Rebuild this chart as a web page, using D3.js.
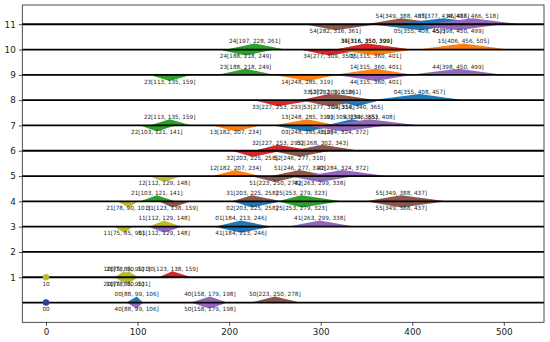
<!DOCTYPE html>
<html><head><meta charset="utf-8">
<script src="https://cdn.jsdelivr.net/npm/d3@7"></script>
<style>body{margin:0;background:#fff}svg{display:block}</style>
</head><body>
<svg id="c" width="550" height="342"></svg>
<script>
// ---- data ----
const rowLines = [0,1,2,3,4,5,6,7,8,9,10,11];
const yTickValues = [1,2,3,4,5,6,7,8,9,10,11];
const xTickValues = [0,100,200,300,400,500];
const names = ["54","05","45","54","05","45",
  "24","35","34","15","24","34","35",
  "23","14","44","23","14","44",
  "33","53","04","33","53","04",
  "22","13","03","43","22","13","03","43",
  "32","52","32","52",
  "12","51","42","12","51","42",
  "21","31","25","55","21","31","02","25","55",
  "11","01","41","11","01","41",
  "10","20","30","20","10",
  "00","40","50","40","50"];
const rows = [11,11,11,11,11,11,
  10,10,10,10,10,10,10,
  9,9,9,9,9,9,
  8,8,8,8,8,8,
  7,7,7,7,7,7,7,7,
  6,6,6,6,
  5,5,5,5,5,5,
  4,4,4,4,4,4,4,4,4,
  3,3,3,3,3,3,
  1,1,1,1,1,
  0,0,0,0,0];
const sides = ["up","up","up","down","down","down",
  "up","up","up","up","down","down","down",
  "up","up","up","down","down","down",
  "up","up","up","down","down","down",
  "up","up","up","up","down","down","down","down",
  "up","up","down","down",
  "up","up","up","down","down","down",
  "up","up","up","up","down","down","down","down","down",
  "up","up","up","down","down","down",
  "up","up","up","down","down",
  "up","up","up","down","down"];
const lows = [349,377,416,282,355,398,
  197,316,316,406,188,277,315,
  188,315,398,113,248,315,
  277,282,355,227,277,314,
  113,248,305,306,103,182,248,284,
  227,268,203,246,
  182,246,284,112,223,263,
  103,203,253,349,78,123,203,253,349,
  112,184,263,75,112,184,
  75,78,123,75,78,
  88,158,223,88,158];
const peaks = [388,434,466,316,408,450,
  228,350,350,456,218,309,360,
  218,360,450,135,285,360,
  309,316,408,253,309,340,
  135,285,334,353,121,207,285,324,
  253,302,225,277,
  207,277,324,129,250,299,
  121,225,279,388,90,138,225,279,388,
  129,213,299,85,129,213,
  85,90,138,85,90,
  99,179,250,99,179];
const highs = [437,487,518,361,457,499,
  261,399,399,505,249,350,401,
  249,401,499,159,319,401,
  350,361,457,293,350,365,
  159,319,365,408,141,234,319,372,
  293,343,258,310,
  234,310,372,148,278,338,
  141,258,323,437,101,159,258,323,437,
  148,246,338,95,148,246,
  95,101,159,95,101,
  106,198,278,106,198];
const groups = ["brown","blue","purple","brown","blue","purple",
  "green","orange","red","orange","green","red","orange",
  "green","orange","purple","green","orange","purple",
  "red","brown","blue","red","brown","blue",
  "green","orange","blue","purple","green","orange","blue","purple",
  "red","brown","red","brown",
  "orange","brown","purple","olive","brown","purple",
  "green","brown","green","brown","olive","brown","blue","green","brown",
  "olive","blue","purple","olive","purple","blue",
  "olive","olive","red","olive","olive",
  "blue","purple","brown","purple","purple"];
// start points
const pointNames = ["10","00"];
const pointX = [0,0];
const pointRows = [1,0];
const pointGroups = ["olive","navy"];

// ---- styles ----
const palette = {blue:"#1f77b4",orange:"#ff7f0e",green:"#2ca02c",red:"#d62728",
  purple:"#9467bd",brown:"#8c564b",olive:"#bcbd22",navy:"#2a3f9a"};
const H = 0.24; // triangle height in row units

const svg = d3.select("#c");
const x = d3.scaleLinear().domain([-25.9, 543.9]).range([22.3, 544]);
const y = d3.scaleLinear().domain([-0.78, 11.76]).range([322.3, 5]);
const font = "DejaVu Sans, sans-serif";

const items = names.map((n,i)=>({name:n,row:rows[i],side:sides[i],a:lows[i],b:peaks[i],c:highs[i],g:groups[i]}));

// shapes
svg.append("g").selectAll("path").data(items).join("path")
  .attr("d", d => {
    const s = d.side === "up" ? 1 : -1;
    return d3.line()([[x(d.a), y(d.row)], [x(d.b), y(d.row + s*H)], [x(d.c), y(d.row)]]) + "Z";
  })
  .attr("fill", d => palette[d.g]);

// horizontal row lines
svg.append("g").selectAll("line").data(rowLines).join("line")
  .attr("x1", x.range()[0]).attr("x2", x.range()[1])
  .attr("y1", d => y(d)).attr("y2", d => y(d))
  .attr("stroke", "#000").attr("stroke-width", 1.8);

// points
svg.append("g").selectAll("circle").data(pointNames).join("circle")
  .attr("cx", (d,i) => x(pointX[i])).attr("cy", (d,i) => y(pointRows[i]))
  .attr("r", 3.2).attr("fill", (d,i) => palette[pointGroups[i]]);
svg.append("g").selectAll("text").data(pointNames).join("text")
  .attr("x", (d,i) => x(pointX[i])).attr("y", (d,i) => y(pointRows[i]) + 8.5)
  .attr("text-anchor","middle").attr("font-family",font).attr("font-size",5.7)
  .attr("fill","#222").text(d => d);

// labels
svg.append("g").selectAll("text").data(items).join("text")
  .attr("x", d => x(d.b))
  .attr("y", d => d.side === "up" ? y(d.row) - 6.2 : y(d.row) + 8.8)
  .attr("text-anchor","middle").attr("font-family",font).attr("font-size",5.7)
  .attr("fill","#222")
  .text(d => `${d.name}[${d.a}, ${d.b}, ${d.c}]`);

// axes
const gx = svg.append("g").attr("transform","translate(0,322.3)")
  .call(d3.axisBottom(x).tickValues(xTickValues).tickSize(3.5).tickPadding(2.5).tickFormat(d3.format("d")));
const gy = svg.append("g").attr("transform","translate(22.3,0)")
  .call(d3.axisLeft(y).tickValues(yTickValues).tickSize(3.5).tickPadding(3).tickFormat(d3.format("d")));
[gx, gy].forEach(g => {
  g.select(".domain").remove();
  g.selectAll("text").attr("font-family",font).attr("font-size",8.8).attr("fill","#222");
  g.selectAll(".tick line").attr("stroke","#222").attr("stroke-width",0.8);
});
// frame
svg.append("rect").attr("x",22.3).attr("y",5).attr("width",544-22.3).attr("height",322.3-5)
  .attr("fill","none").attr("stroke","#222").attr("stroke-width",0.8);
</script>
</body></html>
